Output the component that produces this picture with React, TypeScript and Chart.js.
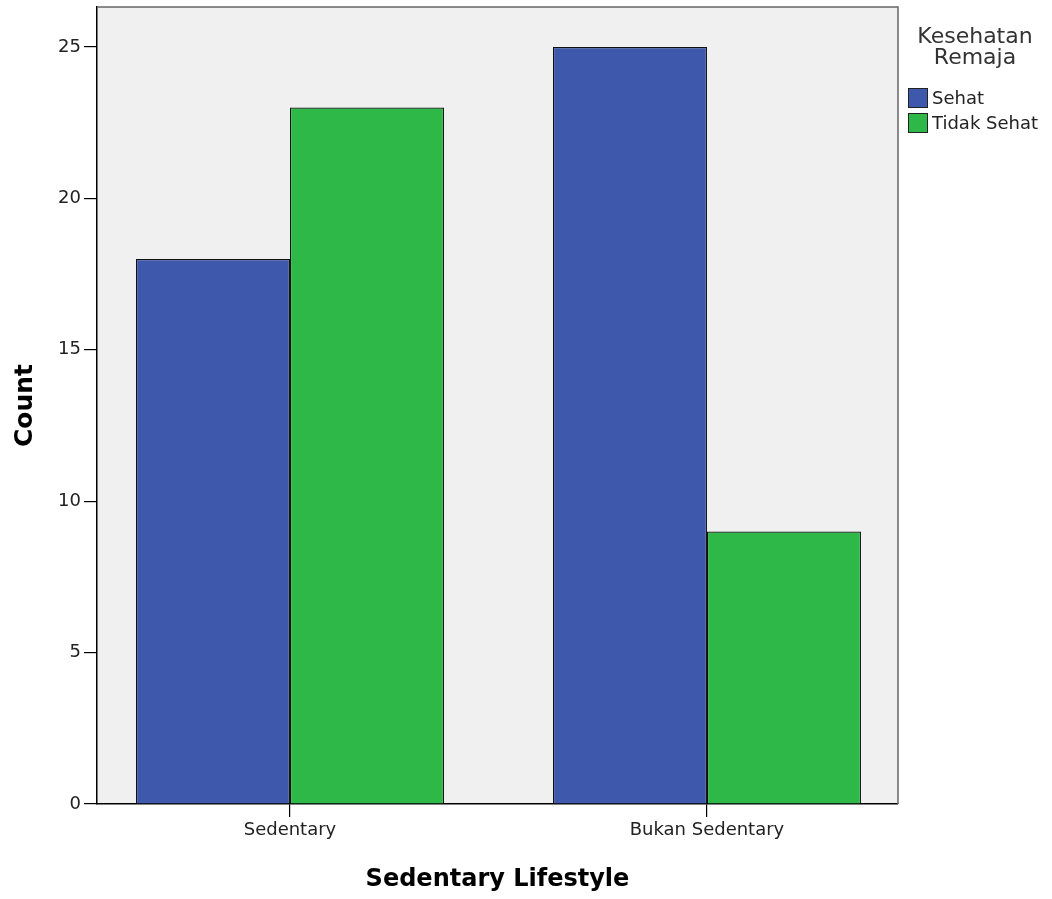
import React, { useEffect, useRef } from "react";
import { Chart, registerables } from "chart.js";

Chart.register(...registerables);

const categories = ["Sedentary", "Bukan Sedentary"];
const seriesNames = ["Sehat", "Tidak Sehat"];
const sehatValues = [18, 25];
const tidakSehatValues = [23, 9];
const yTickStep = 5;
const legendTitle = ["Kesehatan", "Remaja"];
const xTitle = "Sedentary Lifestyle";
const yTitle = "Count";

const BLUE = "#3E58AC";
const GREEN = "#2EB848";
const FONT = "'DejaVu Sans', sans-serif";

const framePlugin = {
  id: "frame",
  beforeDraw(chart: any) {
    const { ctx, chartArea } = chart;
    ctx.save();
    ctx.fillStyle = "#F0F0F0";
    ctx.fillRect(chartArea.left, chartArea.top, chartArea.right - chartArea.left, chartArea.bottom - chartArea.top);
    ctx.restore();
  },
  afterDraw(chart: any) {
    const { ctx, chartArea } = chart;
    ctx.save();
    ctx.strokeStyle = "#666";
    ctx.lineWidth = 1.5;
    ctx.beginPath();
    ctx.moveTo(chartArea.left, chartArea.top);
    ctx.lineTo(chartArea.right, chartArea.top);
    ctx.lineTo(chartArea.right, chartArea.bottom);
    ctx.stroke();

    // legend
    const cx = 975;
    ctx.fillStyle = "#333";
    ctx.font = `22px ${FONT}`;
    ctx.textAlign = "center";
    ctx.textBaseline = "alphabetic";
    ctx.fillText(legendTitle[0], cx, 43);
    ctx.fillText(legendTitle[1], cx, 64);
    ctx.font = `18px ${FONT}`;
    ctx.textAlign = "left";
    ctx.textBaseline = "middle";
    chart.data.datasets.forEach((ds: any, i: number) => {
      const y = 88 + i * 25;
      ctx.fillStyle = ds.backgroundColor;
      ctx.fillRect(908, y, 20, 20);
      ctx.strokeStyle = "#222";
      ctx.lineWidth = 1;
      ctx.strokeRect(908.5, y + 0.5, 19, 19);
      ctx.fillStyle = "#222";
      ctx.fillText(ds.label, 932, y + 11);
    });
    ctx.restore();
  },
};

export default function App() {
  const ref = useRef<HTMLCanvasElement | null>(null);
  useEffect(() => {
    const canvas = ref.current;
    if (!canvas) return;
    const toPoints = (vals: number[]) => vals.map((v, i) => ({ x: i, y: v }));
    const chart = new Chart(canvas, {
      type: "bar",
      data: {
        datasets: [
          {
            label: seriesNames[0],
            data: toPoints(sehatValues),
            backgroundColor: BLUE,
            borderColor: "#111",
            borderWidth: 1.2,
          },
          {
            label: seriesNames[1],
            data: toPoints(tidakSehatValues),
            backgroundColor: GREEN,
            borderColor: "#111",
            borderWidth: 1.2,
          },
        ],
      } as any,
      options: {
        animation: false,
        responsive: true,
        maintainAspectRatio: false,
        layout: { padding: { top: 7, right: 154, left: 0, bottom: 0 } },
        datasets: { bar: { categoryPercentage: 0.7386, barPercentage: 1 } },
        plugins: { legend: { display: false }, tooltip: { enabled: false } },
        scales: {
          x: {
            type: "linear",
            min: -0.4628,
            max: 1.4581,
            offset: false,
            afterBuildTicks: (scale: any) => {
              scale.ticks = categories.map((_, i) => ({ value: i }));
            },
            afterFit: (scale: any) => {
              scale.height = 95;
              scale.paddingLeft = 0;
              scale.paddingRight = 0;
            },
            grid: { drawOnChartArea: false, offset: false, tickLength: 13, color: "#000", lineWidth: 1.2 },
            border: { color: "#000", width: 1.5 },
            ticks: {
              callback: (v: any) => categories[v as number] ?? "",
              color: "#222",
              font: { family: FONT, size: 18 },
              padding: 3,
              maxRotation: 0,
              autoSkip: false,
            },
            title: {
              display: true,
              text: xTitle,
              color: "#000",
              font: { family: FONT, size: 24, weight: "bold" },
              padding: { top: 0, bottom: 5 },
            },
          },
          y: {
            type: "linear",
            min: 0,
            max: 26.32,
            afterFit: (scale: any) => {
              scale.width = 97;
              scale.paddingTop = 0;
              scale.paddingBottom = 0;
            },
            grid: { drawOnChartArea: false, tickLength: 13, color: "#000", lineWidth: 1.2 },
            border: { color: "#000", width: 1.5 },
            ticks: {
              stepSize: yTickStep,
              includeBounds: false,
              color: "#222",
              font: { family: FONT, size: 18 },
              padding: 3,
            },
            title: {
              display: true,
              text: yTitle,
              color: "#000",
              font: { family: FONT, size: 25, weight: "bold" },
              padding: { top: 10, bottom: 0 },
            },
          },
        },
      } as any,
      plugins: [framePlugin],
    });
    return () => chart.destroy();
  }, []);
  return (
    <div style={{ position: "absolute", left: 0, top: 0, width: 1052, height: 899, background: "#fff" }}>
      <canvas ref={ref} />
    </div>
  );
}
